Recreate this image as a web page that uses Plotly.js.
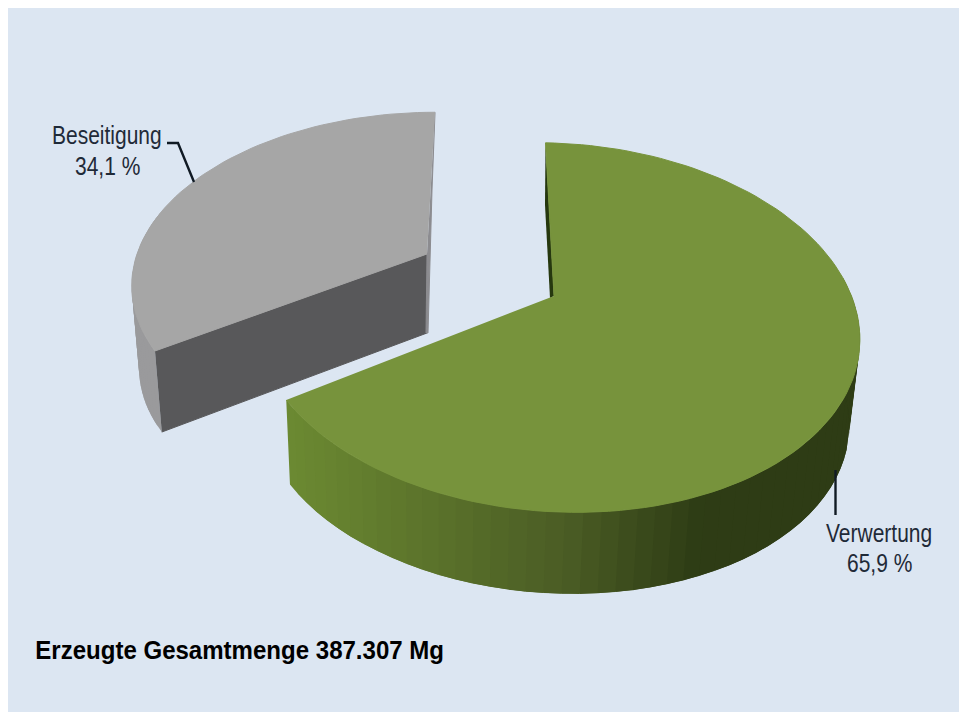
<!DOCTYPE html>
<html><head><meta charset="utf-8">
<script src="https://cdn.plot.ly/plotly-3.0.1.min.js"></script>
<style>html,body{margin:0;padding:0;background:#fff}#c{width:959px;height:712px}
.annotation-text{transform-box:fill-box;transform-origin:center;transform:scaleX(.84)}
.annotation[data-index="4"] .annotation-text{transform:scaleX(.925)}
</style>
</head><body><div id="c"></div>
<script>
const categories = ['Verwertung', 'Beseitigung'];
const shares = [65.9, 34.1];
const shareLabels = ['65,9 %', '34,1 %'];
const totalLabel = 'Erzeugte Gesamtmenge 387.307 Mg';

// projection of each slice's circular disc on to the picture
const greenView = {apex:[554,296], cx:555, cy:298, B:299, A:180, S:-11, T:5, k:0.16, D:87, s:0.975, lowDx:-3};
const greyView  = {apex:[427,254], cx:427, cy:254, B:290, A:164, S:9.3, T:0, k:0.157, D:83.5, s:0.975, lowDx:0};

function project(v, deg, low) {
  const t = deg*Math.PI/180, u = Math.sin(t), w = Math.cos(t), d = 1 + v.k*w;
  const sc = low ? v.s : 1;
  return [v.cx + (low ? v.lowDx : 0) + sc*(v.B*u + v.S*w)/d, v.cy + (low ? v.D : 0) + sc*(-v.A*w + v.T*u)/d];
}
function angleRange(a, b, step) {
  const out = [], n = Math.max(2, Math.round(Math.abs(b-a)/step));
  for (let i = 0; i <= n; i++) out.push(a + (b-a)*i/n);
  return out;
}
function poly(pts, color, lineWidth) {
  return {x: pts.map(p=>p[0]), y: pts.map(p=>p[1]), mode:'lines', fill:'toself',
          fillcolor:color, line:{color:color, width:lineWidth===undefined?1:lineWidth}, hoverinfo:'skip', showlegend:false};
}
function mix(c1, c2, f) {
  f = Math.max(0, Math.min(1, f));
  return 'rgb(' + c1.map((c,i)=>Math.round(c + (c2[i]-c)*f)).join(',') + ')';
}
// wall bands, painted in order; each band runs on under the next so no seams show
function wallQuads(v, a0, a1, step, colorAt) {
  const ang = angleRange(a0, a1, step), out = [];
  for (let i = 0; i < ang.length-1; i++) {
    const a = ang[i], b = ang[Math.min(i+2, ang.length-1)];
    const m = ang[i+1];
    out.push(poly([project(v,a,false),project(v,m,false),project(v,b,false),
                   project(v,b,true),project(v,m,true),project(v,a,true)],
                  colorAt(project(v,(a+m)/2,false)[0]), 0));
  }
  return out;
}

const traces = [];
const splitDeg = 360*shares[0]/100;

// grey slice (exploded): 65.9 % .. 100 %
const gTop = angleRange(splitDeg, 360, 2).map(a=>project(greyView,a,false));
// rim of the grey slice, seen at its left
traces.push(...wallQuads(greyView, splitDeg, 285, 2, ()=>'#9a9a9c'));
// cut face, front
traces.push(poly([project(greyView,splitDeg,false), greyView.apex,
  [greyView.apex[0], greyView.apex[1]+79], project(greyView,splitDeg,true)], '#58585a'));
// thin back wall on its right
traces.push(poly([project(greyView,360,false), [432,190], [428,333], [426,333], greyView.apex], '#8c8c90'));
// top face
traces.push(poly([greyView.apex].concat(gTop), '#a6a6a6'));

// green slice: 0 .. 65.9 %
const cL=[108,138,50], cM=[74,92,36], cR=[46,60,21];
traces.push(...wallQuads(greenView, splitDeg, 82, 3,
  p => p < 570 ? mix(cL,cM,(p-286)/284) : mix(cM,cR,(p-570)/130)));
// thin dark wall behind the start edge
traces.push(poly([project(greenView,0,false), [545,205], [550,298], greenView.apex], '#26380f', 0));
traces.push(poly([greenView.apex].concat(angleRange(0, splitDeg, 2).map(a=>project(greenView,a,false))), '#77933c'));

// leader lines
const leader = (xs,ys)=>({x:xs,y:ys,mode:'lines',line:{color:'#101a24',width:2.4},hoverinfo:'skip',showlegend:false});
traces.push(leader([167,178,194],[143,143,182]));
traces.push(leader([835.5,835.5],[470,515]));

const labelFont = {family:'"Liberation Sans",Arial,sans-serif', size:25, color:'#1f2a38'};
const note = (x,y,text,font)=>({xref:'x',yref:'y',x,y,text,showarrow:false,font,xanchor:'center',yanchor:'middle',align:'center'});

const layout = {
  width:959, height:712, margin:{l:0,r:0,t:0,b:0}, paper_bgcolor:'#ffffff', plot_bgcolor:'#ffffff',
  showlegend:false,
  xaxis:{range:[0,959],visible:false,fixedrange:true},
  yaxis:{range:[712,0],visible:false,fixedrange:true},
  shapes:[{type:'rect',xref:'x',yref:'y',x0:8,y0:8,x1:959,y1:712,fillcolor:'#dce6f2',line:{width:0},layer:'below'}],
  annotations:[
    note(107,135,categories[1],labelFont),
    note(107,166,shareLabels[1],labelFont),
    note(879,533,categories[0],labelFont),
    note(879,563,shareLabels[0],labelFont),
    note(239,649,totalLabel,{family:'"Liberation Sans",Arial,sans-serif',size:26,color:'#000',weight:700})
  ]
};
Plotly.newPlot('c',traces,layout,{staticPlot:true,displayModeBar:false});
</script></body></html>
